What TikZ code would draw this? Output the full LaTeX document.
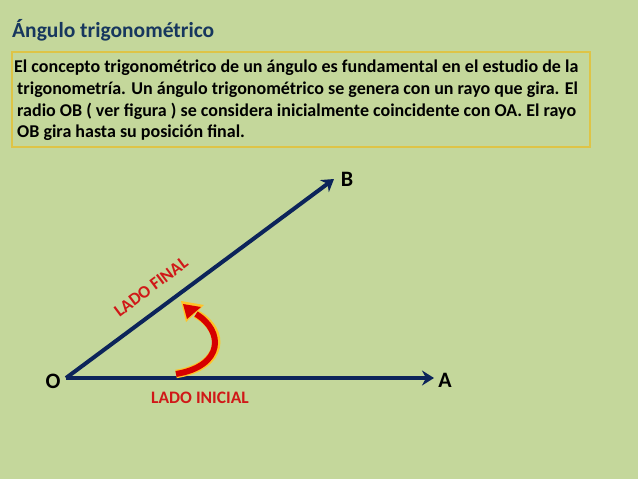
\documentclass[tikz,border=0pt]{standalone}
\usepackage{fontspec}
\setmainfont{Carlito}
\usetikzlibrary{arrows.meta}
\definecolor{bg}{RGB}{196,215,155}
\definecolor{titleblue}{RGB}{23,55,94}
\definecolor{navy}{RGB}{12,36,90}
\definecolor{boxgold}{RGB}{222,196,70}
\definecolor{lblred}{RGB}{208,24,24}
\definecolor{arrred}{RGB}{214,0,0}
\definecolor{arrglow}{RGB}{255,196,40}
\tikzset{
  ray/.style={draw=navy, line width=4pt, -{Stealth[length=12pt,width=15pt,inset=4pt]}},
  ptlabel/.style={font=\bfseries\fontsize{22}{22}\selectfont, text=black},
  sidelabel/.style={font=\bfseries\fontsize{17.5}{17.5}\selectfont, text=lblred, inner sep=0pt},
}
\begin{document}
\begin{tikzpicture}[x=1pt,y=-1pt]
\fill[bg] (0,0) rectangle (638,479);
\useasboundingbox (0,0) rectangle (638,479);
% title
\node[anchor=west, inner sep=0pt, text=titleblue, font=\bfseries\fontsize{21.5}{21.5}\selectfont] (title) at (12,30) {Ángulo trigonométrico};
% text box
\draw[boxgold, line width=1.2pt] (12,52) rectangle (590,147);
\node[anchor=north west, inner sep=0pt, align=left, font=\bfseries\fontsize{18}{21.6}\selectfont] (body) at (14,60)
{El concepto trigonométrico de un ángulo es fundamental en el estudio de la\\
\hspace{3pt}trigonometría. Un ángulo trigonométrico se genera con un rayo que gira. El\\
\hspace{3pt}radio OB ( ver figura ) se considera inicialmente coincidente con OA. El rayo\\
\hspace{3pt}OB gira hasta su posición final.};
% points
\coordinate (O) at (66,378);
\coordinate (A) at (434,378);
\coordinate (B) at (334,179);
\draw[ray] (O) -- (A);
\draw[ray] (O) -- (B);
\node[ptlabel] (Ol) at (53,381) {O};
\node[ptlabel] (Al) at (445,380) {A};
\node[ptlabel] (Bl) at (347,179) {B};
% side labels
\node[sidelabel, rotate=36.9] (lf) at (151,287) {LADO FINAL};
\node[sidelabel] (li) at (200,398) {LADO INICIAL};
% curved red arrow
\coordinate (c0) at (176,374);
\coordinate (c1) at (196,314);
\draw[arrglow, line width=8.5pt, line cap=butt] (c0) .. controls (225,366) and (226,330) .. (c1);
\fill[arrglow] (181,301) -- (204,305) -- (186,322) -- cycle;
\draw[arrred, line width=6pt, line cap=butt] (c0) .. controls (224,366) and (224,331) .. (c1);
\fill[arrred] (183,304) -- (201,307) -- (187,319) -- cycle;
\end{tikzpicture}
\end{document}
